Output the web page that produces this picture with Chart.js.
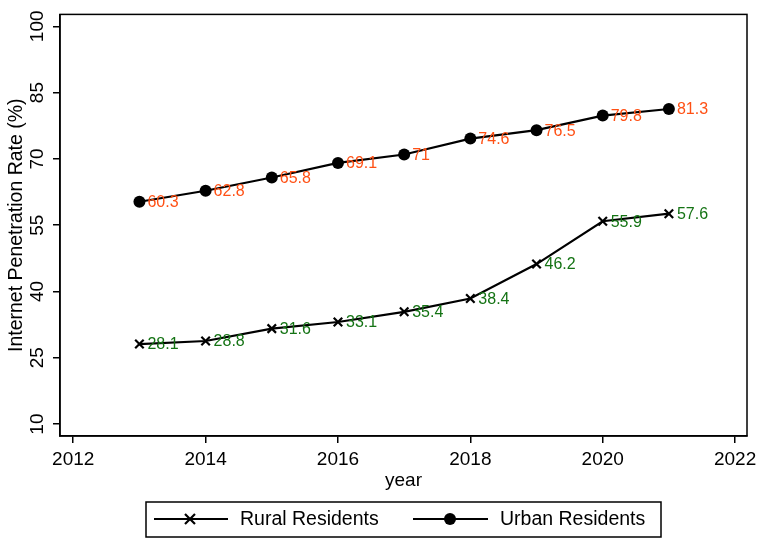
<!DOCTYPE html>
<html>
<head>
<meta charset="utf-8">
<script src="https://cdn.jsdelivr.net/npm/chart.js@4"></script>
<style>
  html, body { margin: 0; padding: 0; background: #fff; }
</style>
</head>
<body>
<canvas id="chart" width="763" height="542"></canvas>
<script>
// ---- data ----
const years = [2013, 2014, 2015, 2016, 2017, 2018, 2019, 2020, 2021];
const rural = [28.1, 28.8, 31.6, 33.1, 35.4, 38.4, 46.2, 55.9, 57.6];
const urban = [60.3, 62.8, 65.8, 69.1, 71, 74.6, 76.5, 79.8, 81.3];
const xTicks = [2012, 2014, 2016, 2018, 2020, 2022];
const yTicks = [10, 25, 40, 55, 70, 85, 100];
const seriesNames = ['Rural Residents', 'Urban Residents'];

const FONT = '"Liberation Sans", Arial, sans-serif';
const ORANGE = 'rgb(255,80,20)';
const GREEN = 'rgb(20,115,20)';

// frame on top / right of the plot region
const framePlugin = {
  id: 'frame',
  afterDraw(chart) {
    const a = chart.chartArea, c = chart.ctx;
    c.save();
    c.strokeStyle = '#000';
    c.lineWidth = 1.5;
    c.strokeRect(a.left, a.top, a.right - a.left, a.bottom - a.top);
    c.restore();
  }
};

// vertical y tick labels (Stata style)
const yLabelPlugin = {
  id: 'yLabels',
  afterDraw(chart) {
    const s = chart.scales.y, c = chart.ctx;
    c.save();
    c.font = '19px ' + FONT;
    c.fillStyle = '#000';
    c.textAlign = 'center';
    c.textBaseline = 'middle';
    s.ticks.forEach(t => {
      const y = s.getPixelForValue(t.value);
      c.save();
      c.translate(38, y);
      c.rotate(-Math.PI / 2);
      c.fillText(String(t.value), 0, 0);
      c.restore();
    });
    c.restore();
  }
};

// value labels at 3 o'clock
const valueLabelPlugin = {
  id: 'valueLabels',
  afterDatasetsDraw(chart) {
    const c = chart.ctx;
    c.save();
    c.font = '16px ' + FONT;
    c.textAlign = 'left';
    c.textBaseline = 'middle';
    chart.data.datasets.forEach((ds, i) => {
      const meta = chart.getDatasetMeta(i);
      c.fillStyle = ds.labelColor;
      meta.data.forEach((p, j) => {
        c.fillText(String(ds.data[j].y), p.x + 8, p.y + 1);
      });
    });
    c.restore();
  }
};

// boxed legend at the bottom
const legendPlugin = {
  id: 'boxLegend',
  afterDraw(chart) {
    const c = chart.ctx;
    c.save();
    c.strokeStyle = '#000';
    c.lineWidth = 1.5;
    c.strokeRect(146, 502, 515, 35);
    const y = 519;
    const items = [
      {x0: 154, x1: 228, mx: 190, tx: 240, style: 'cross'},
      {x0: 413, x1: 488, mx: 450, tx: 500, style: 'circle'}
    ];
    items.forEach((it, i) => {
      c.lineWidth = 2;
      c.beginPath();
      c.moveTo(it.x0, y);
      c.lineTo(it.x1, y);
      c.stroke();
      if (it.style === 'cross') {
        c.beginPath();
        c.moveTo(it.mx - 5, y - 5); c.lineTo(it.mx + 5, y + 5);
        c.moveTo(it.mx - 5, y + 5); c.lineTo(it.mx + 5, y - 5);
        c.lineWidth = 2.2;
        c.stroke();
      } else {
        c.beginPath();
        c.arc(it.mx, y, 6, 0, Math.PI * 2);
        c.fillStyle = '#000';
        c.fill();
      }
      c.font = '19.5px ' + FONT;
      c.fillStyle = '#000';
      c.textAlign = 'left';
      c.textBaseline = 'middle';
      c.fillText(seriesNames[i], it.tx, y + 1);
    });
    c.restore();
  }
};

new Chart(document.getElementById('chart'), {
  type: 'line',
  data: {
    datasets: [
      {
        label: seriesNames[0],
        data: years.map((yr, i) => ({x: yr, y: rural[i]})),
        borderColor: '#000',
        backgroundColor: '#000',
        borderWidth: 2.2,
        pointStyle: 'crossRot',
        pointRadius: 6,
        pointBorderWidth: 2.2,
        labelColor: GREEN
      },
      {
        label: seriesNames[1],
        data: years.map((yr, i) => ({x: yr, y: urban[i]})),
        borderColor: '#000',
        backgroundColor: '#000',
        borderWidth: 2.2,
        pointStyle: 'circle',
        pointRadius: 6,
        pointBorderWidth: 0,
        labelColor: ORANGE
      }
    ]
  },
  options: {
    responsive: false,
    animation: false,
    layout: { padding: { top: 13, right: 16, bottom: 50, left: 0 } },
    plugins: {
      legend: { display: false },
      tooltip: { enabled: false }
    },
    scales: {
      x: {
        type: 'linear',
        min: 2011.8,
        max: 2022.18,
        afterBuildTicks: s => { s.ticks = xTicks.map(v => ({value: v})); },
        afterFit: s => { s.height = 56; },
        ticks: {
          color: '#000',
          font: { family: FONT, size: 19 },
          padding: 5,
          callback: v => String(v),
          maxRotation: 0
        },
        grid: { drawOnChartArea: false, drawTicks: true, tickLength: 7, color: '#000', lineWidth: 1.5 },
        border: { color: '#000', width: 1.5 },
        title: { display: true, text: 'year', color: '#000', font: { family: FONT, size: 19 }, padding: 0 }
      },
      y: {
        min: 7.3,
        max: 102.7,
        afterBuildTicks: s => { s.ticks = yTicks.map(v => ({value: v})); },
        afterFit: s => { s.width = 60; },
        ticks: {
          color: 'rgba(0,0,0,0)',
          font: { family: FONT, size: 19 }
        },
        grid: { drawOnChartArea: false, drawTicks: true, tickLength: 7, color: '#000', lineWidth: 1.5 },
        border: { color: '#000', width: 1.5 },
        title: { display: true, text: 'Internet Penetration Rate (%)', color: '#000', font: { family: FONT, size: 19.5 }, padding: { top: 5, bottom: 0 } }
      }
    }
  },
  plugins: [framePlugin, yLabelPlugin, valueLabelPlugin, legendPlugin]
});
</script>
</body>
</html>
